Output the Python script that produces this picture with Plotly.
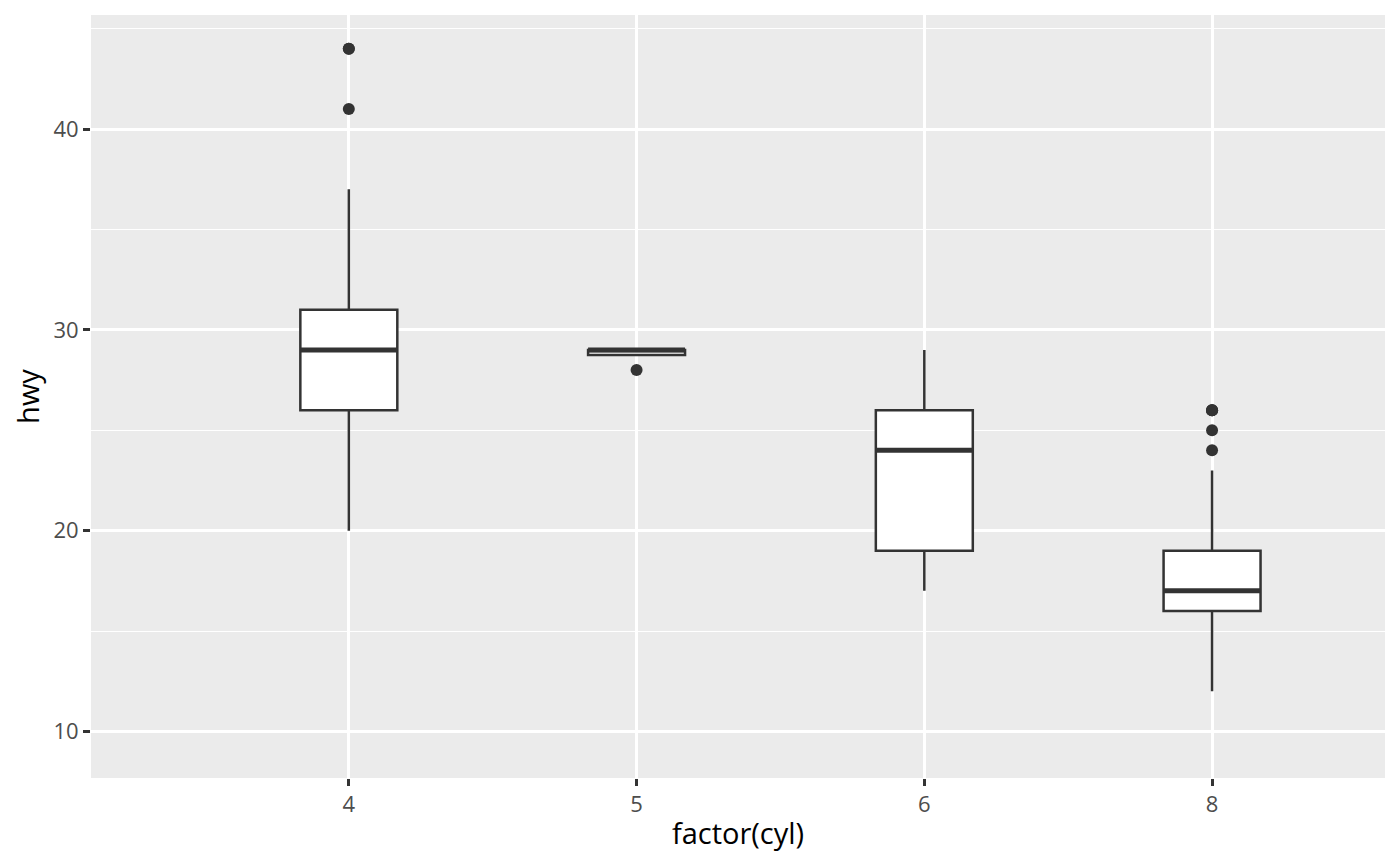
import plotly.graph_objects as go

# hwy by number of cylinders (mpg data), box statistics
cyl_labels = ["4", "5", "6", "8"]
hwy_lower = [20, 29, 17, 12]
hwy_q1 = [26, 28.75, 19, 16]
hwy_median = [29, 29, 24, 17]
hwy_q3 = [31, 29, 26, 19]
hwy_upper = [37, 29, 29, 23]

# outlying points
out_cyl = ["4", "4", "4", "5", "8", "8", "8", "8", "8"]
out_hwy = [44, 44, 41, 28, 26, 26, 26, 25, 24]

box_w = 0.337
dark = "#333333"

fig = go.Figure()
fig.add_trace(go.Box(
    x=cyl_labels,
    q1=hwy_q1, median=hwy_median, q3=hwy_q3,
    lowerfence=hwy_lower, upperfence=hwy_upper,
    boxpoints=False,
    width=box_w,
    whiskerwidth=0,
    fillcolor="white",
    line=dict(color=dark, width=2.5),
    showlegend=False,
))
fig.add_trace(go.Scatter(
    x=out_cyl, y=out_hwy, mode="markers",
    marker=dict(color=dark, size=12),
    showlegend=False,
))

# thicker median bar, like ggplot
for i, m in enumerate(hwy_median):
    fig.add_shape(type="line", xref="x", yref="y",
                  x0=i - box_w / 2, x1=i + box_w / 2, y0=m, y1=m,
                  line=dict(color=dark, width=5))

# page body adds an 8px offset, so the figure is 8px smaller
fig.update_layout(
    width=1392, height=858,
    margin=dict(l=83, r=15, t=7, b=88),
    plot_bgcolor="#EBEBEB",
    paper_bgcolor="white",
    font=dict(family="Open Sans", color="#4D4D4D"),
)
fig.update_xaxes(
    type="category", range=[-0.896, 3.601],
    showgrid=True, gridcolor="white", gridwidth=2.5,
    ticks="outside", ticklen=7, tickwidth=2.5, tickcolor=dark,
    tickfont=dict(size=22, color="#4D4D4D"),
    title=dict(text="factor(cyl)", font=dict(size=29, color="black"), standoff=6),
    zeroline=False, showline=False,
)
fig.update_yaxes(
    range=[7.68, 45.68], tickvals=[10, 20, 30, 40],
    showgrid=True, gridcolor="white", gridwidth=2.5,
    minor=dict(tickvals=[15, 25, 35, 45], showgrid=True, gridcolor="white", gridwidth=1.3),
    ticks="outside", ticklen=7, tickwidth=2.5, tickcolor=dark,
    tickfont=dict(size=22, color="#4D4D4D"),
    title=dict(text="hwy", font=dict(size=29, color="black"), standoff=9),
    zeroline=False, showline=False,
)

fig.write_html("out.html")
